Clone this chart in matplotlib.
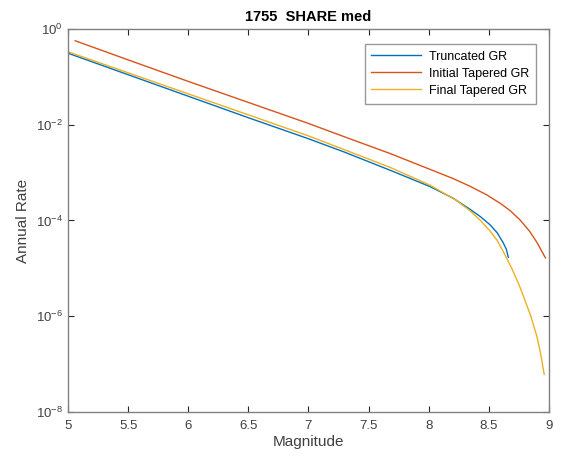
import matplotlib
matplotlib.use('Agg')
import matplotlib.pyplot as plt
import numpy as np

# values (magnitude, log10 of annual rate)
trunc_m = [5.0, 5.5, 6.0, 6.5, 7.0, 7.3, 7.68, 8.01, 8.2, 8.34, 8.43, 8.51,
           8.57, 8.62, 8.645, 8.662]
trunc_log = [-0.50, -0.95, -1.40, -1.85, -2.29, -2.57, -2.95, -3.29, -3.53, -3.76,
             -3.92, -4.09, -4.26, -4.47, -4.60, -4.77]

init_m = [5.06, 5.5, 6.0, 6.5, 7.0, 7.3, 7.68, 8.0, 8.2, 8.34, 8.48, 8.6,
          8.68, 8.76, 8.84, 8.9, 8.97]
init_log = [-0.24, -0.64, -1.09, -1.53, -1.97, -2.25, -2.60, -2.92, -3.12, -3.28,
            -3.46, -3.65, -3.80, -3.99, -4.23, -4.46, -4.78]

final_m = [5.0, 5.5, 6.0, 6.5, 7.0, 7.3, 7.68, 8.01, 8.23, 8.34, 8.43, 8.51,
           8.57, 8.62, 8.69, 8.75, 8.79, 8.85, 8.9, 8.93, 8.96]
final_log = [-0.47, -0.91, -1.35, -1.79, -2.23, -2.52, -2.89, -3.26, -3.58, -3.79,
             -4.00, -4.22, -4.42, -4.65, -5.00, -5.34, -5.60, -6.01, -6.43, -6.78, -7.22]

x_ticks = [5, 5.5, 6, 6.5, 7, 7.5, 8, 8.5, 9]
x_tick_labels = ['5', '5.5', '6', '6.5', '7', '7.5', '8', '8.5', '9']
y_ticks = [1e0, 1e-2, 1e-4, 1e-6, 1e-8]

plt.rcParams['font.family'] = ['Liberation Sans', 'DejaVu Sans']
plt.rcParams['mathtext.fontset'] = 'custom'
plt.rcParams['mathtext.rm'] = 'Liberation Sans'
plt.rcParams['axes.unicode_minus'] = False

fig = plt.figure(figsize=(5.61, 4.68), dpi=100)
ax = fig.add_axes([0.1212, 0.1203, 0.8574, 0.8171])

ax.plot(trunc_m, 10 ** np.array(trunc_log), color='#0072BD', lw=1.0, label='Truncated GR')
ax.plot(init_m, 10 ** np.array(init_log), color='#D95319', lw=1.0, label='Initial Tapered GR')
ax.plot(final_m, 10 ** np.array(final_log), color='#EDB120', lw=1.0, label='Final Tapered GR')

ax.set_yscale('log')
ax.set_xlim(5, 9)
ax.set_ylim(1e-8, 1e0)
ax.set_xticks(x_ticks)
ax.set_xticklabels(x_tick_labels)
ax.set_yticks(y_ticks)
ax.minorticks_off()
ax.tick_params(direction='in', top=True, right=True, length=4, width=0.8,
               colors='#262626', labelsize=9.5, labelcolor='#404040')
ax.tick_params(axis='x', pad=6)
for s in ax.spines.values():
    s.set_color('#808080')
    s.set_linewidth(1.0)

ax.set_xlabel('Magnitude', fontsize=11, color='#404040', labelpad=2)
ax.set_ylabel('Annual Rate', fontsize=11, color='#404040', labelpad=4)
ax.set_title('1755  SHARE med', fontsize=10.5, fontweight='bold', pad=6)

leg = ax.legend(loc='upper right', bbox_to_anchor=(0.973, 0.962), borderaxespad=0,
                fontsize=9, frameon=True, fancybox=False, handlelength=4.0,
                borderpad=0.55, labelspacing=0.4, handletextpad=0.6)
leg.get_frame().set_edgecolor('#808080')
leg.get_frame().set_linewidth(1.0)

plt.savefig('out.png', dpi=100)
